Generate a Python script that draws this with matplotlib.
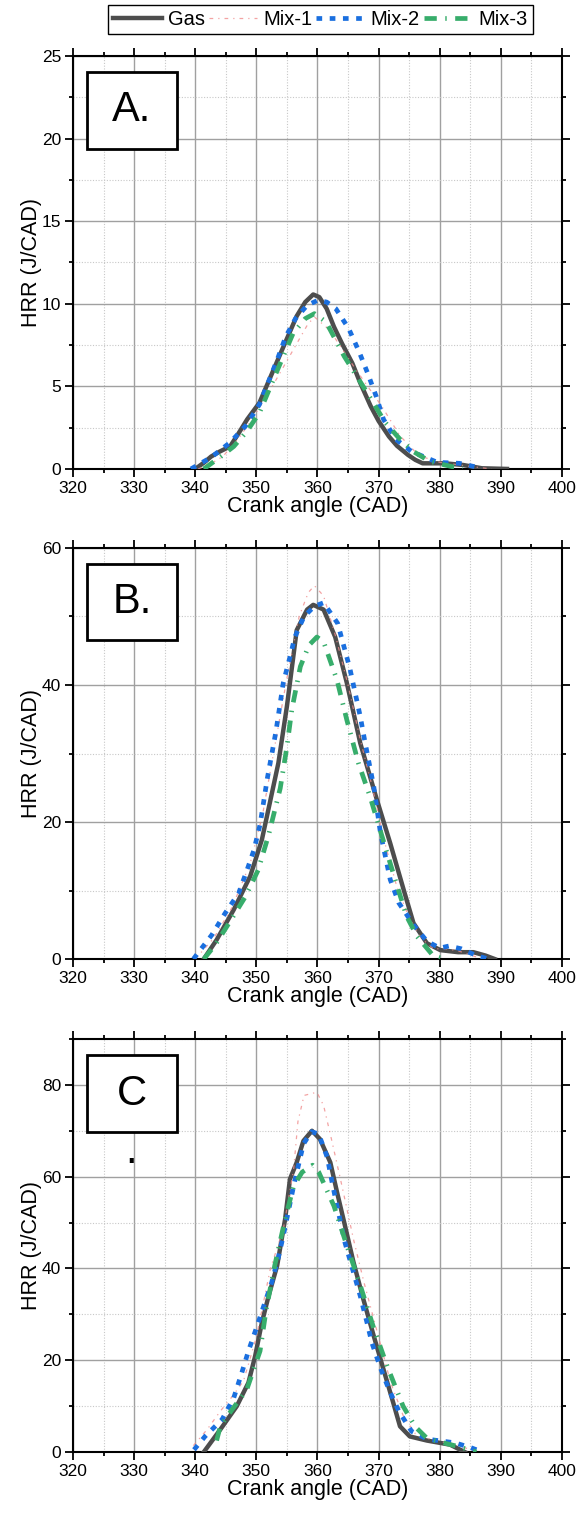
import matplotlib
matplotlib.use('Agg')
import matplotlib.pyplot as plt
from matplotlib.patches import Rectangle
from matplotlib.ticker import MultipleLocator

plt.rcParams['font.family'] = ['Liberation Sans', 'DejaVu Sans']

# ---- data (crank angle in CAD, HRR in J/CAD) ----
# panel A
gas_a_x = [340, 341.5, 342.6, 344, 345.7, 347, 348.5, 350.5, 352, 354.2, 356.6, 358, 359.3, 360.3, 361.5,
           362.7, 364, 365.7, 367, 368.7, 370, 371.7, 373, 374.8, 376, 377.2, 380.8, 383.8, 386.9, 391]
gas_a_y = [0, 0.4, 0.75, 1.05, 1.36, 2.1, 3.0, 4.0, 5.3, 7.2, 9.25, 10.1, 10.56, 10.4, 9.7,
           8.6, 7.6, 6.4, 5.2, 3.8, 2.9, 1.96, 1.4, 0.85, 0.55, 0.34, 0.34, 0.24, 0.04, 0]
mix1_a_x = [340.5, 342.5, 344.5, 347, 349.3, 352.3, 355.4, 358.4, 359.5, 362, 366.3, 370.5, 373.5, 376.6, 380, 385, 388.5]
mix1_a_y = [0, 0.3, 0.75, 1.8, 3.0, 4.8, 6.8, 8.75, 9.2, 8.4, 6.0, 3.8, 2.0, 0.8, 0.4, 0.15, 0]
mix2_a_x = [339.3, 342.6, 345.7, 348.4, 350.5, 351.9, 353.4, 354.8, 356.4, 358.3, 360, 361.5, 363, 365.1,
            366.8, 368.2, 369.6, 370.8, 372.8, 375.4, 379.6, 383.2, 386.9]
mix2_a_y = [0, 0.7, 1.6, 2.67, 3.9, 5.2, 6.6, 8.0, 9.1, 9.9, 10.2, 10.1, 9.7, 8.5,
            7.1, 5.8, 4.4, 3.0, 1.8, 1.05, 0.4, 0.34, 0.04]
mix3_a_x = [341.4, 344, 346.3, 348.5, 350.5, 353, 356, 358, 359.5, 361.4, 364.4, 367.8, 371.1, 373.5, 375.7, 378.4, 382, 383.8]
mix3_a_y = [0, 0.7, 1.36, 2.3, 3.4, 5.6, 8.2, 9.1, 9.4, 8.9, 6.8, 4.8, 2.8, 1.8, 1.05, 0.45, 0.14, 0.08]

# panel B
gas_b_x = [341.4, 343.5, 346.3, 349, 350.9, 352.3, 353.6, 355, 356.6, 358.3, 359.3, 361, 362.9, 364.8, 367,
           369.7, 371.9, 374.1, 375.7, 377.9, 380.1, 383, 385.5, 387.5, 389]
gas_b_y = [0, 2.8, 7.2, 12.1, 17.4, 23.2, 28.6, 36.9, 48, 51, 51.7, 51, 47, 40.3, 31.5,
           23.3, 16.9, 10.1, 5.25, 2.3, 1.3, 1.0, 1.0, 0.5, 0]
mix1_b_x = [340, 343, 346, 349, 351, 353, 355, 357, 358.5, 359.5, 361, 363, 365, 367, 369, 371, 373, 375,
            377, 379, 381, 383, 385, 387]
mix1_b_y = [0, 3, 7.5, 14, 21, 31, 41, 50, 53.5, 54.5, 53, 47, 40, 32, 25, 17, 10.5, 6,
            3, 1.5, 1.5, 1.2, 0.6, 0]
mix2_b_x = [339.7, 342.7, 344.9, 347.1, 348.4, 349.6, 350.6, 351.8, 353.2, 354.4, 355.5, 356.3, 357.8, 359.5,
            361, 363.3, 365.3, 367, 367.7, 369.2, 370.3, 371.9, 373.3, 375.7, 377.9, 380, 381.5, 383.5, 386, 388]
mix2_b_y = [0, 3.5, 6.7, 9.6, 12.8, 15.9, 19.6, 26.4, 33.2, 40.3, 44.1, 47, 50, 51.5,
            52, 49, 42.4, 35.4, 32, 25.2, 18.4, 11.6, 8.2, 5.0, 2.6, 1.6, 1.9, 1.5, 0.5, 0]
mix3_b_x = [341.4, 343.3, 345.7, 348.2, 350.3, 352, 353.9, 355, 355.8, 357.2, 358.6, 359.9, 361, 363.2,
            364.8, 366.7, 368.6, 370.8, 372.7, 374.6, 376.3, 379, 381]
mix3_b_y = [0, 2.1, 5.5, 9.1, 13, 18.1, 24.9, 31, 36.4, 42.7, 45.8, 47, 46.3, 40.7,
            34.9, 28.6, 23.7, 17.2, 11.6, 6.2, 3.3, 0.4, 0]

# panel C
gas_c_x = [341.4, 344.1, 346.8, 348.7, 349.8, 350.9, 352, 353.4, 354.7, 355.5, 356.6, 357.7, 359.1, 360.4,
           362.1, 363.2, 364.5, 365.9, 367.5, 369.2, 370.8, 372.4, 373.5, 375.1, 377.9, 381.7, 384.1]
gas_c_y = [0, 4.9, 10, 15.1, 20.9, 28.2, 34, 40.6, 50.7, 59.5, 63.1, 67.8, 70, 68.2,
           63.1, 56.6, 49.3, 41.3, 33.3, 25.3, 18, 10.7, 5.6, 3.4, 2.5, 1.6, 0]
mix1_c_x = [339.7, 342, 344.1, 346, 347.9, 350, 352.3, 354.4, 356.1, 356.8, 357.8, 359.9, 361, 362.4,
            364, 365.9, 367.6, 370, 372, 374, 376, 379, 383, 386]
mix1_c_y = [1.4, 5, 8.9, 12, 15.5, 25, 40, 48.5, 61.6, 72, 77.7, 78.4, 75.5, 67.5,
            58, 46.3, 37, 25, 15, 8, 4, 2.5, 1.5, 0]
mix2_c_x = [339.8, 341.6, 344.4, 346.3, 347.6, 348.7, 350.1, 351.2, 352.5, 353.6, 354.4, 355.2, 356.1, 357.7,
            359, 360.2, 361.6, 362.4, 363.2, 364.5, 367, 368.1, 368.9, 370.3, 371.7, 373.3, 375.4, 378,
            382.5, 385, 387]
mix2_c_y = [0.5, 3.4, 7.1, 11.8, 17.2, 22, 27.4, 31.8, 36.9, 42.4, 47.1, 52.2, 58, 67.1,
            69.8, 69.3, 64.2, 58.7, 53.6, 45.6, 34, 28.2, 23.8, 18.3, 13.6, 8.9, 4.5, 2.8,
            2.0, 1.0, 0]
mix3_c_x = [343.5, 344.1, 346, 348.4, 350.6, 351.6, 353, 354.7, 356.1, 357.5, 359.2, 360.2, 362.7, 364.8,
            367, 369.2, 371.4, 374, 376, 377.9, 380, 383, 386]
mix3_c_y = [2.5, 5.6, 9.2, 13.5, 22, 31, 40.6, 50.7, 58, 61, 62.5, 61, 53.6, 45,
            36.3, 27, 18.7, 10, 5.5, 3, 2.2, 1.2, 0]

series_names = ['Gas', 'Mix-1', 'Mix-2', 'Mix-3']
panel_labels = ['A.', 'B.', 'C']
y_limits = [25, 60, 90]
y_major = [5, 20, 20]

panels = [
    [(gas_a_x, gas_a_y), (mix1_a_x, mix1_a_y), (mix2_a_x, mix2_a_y), (mix3_a_x, mix3_a_y)],
    [(gas_b_x, gas_b_y), (mix1_b_x, mix1_b_y), (mix2_b_x, mix2_b_y), (mix3_b_x, mix3_b_y)],
    [(gas_c_x, gas_c_y), (mix1_c_x, mix1_c_y), (mix2_c_x, mix2_c_y), (mix3_c_x, mix3_c_y)],
]

# line styles for Gas, Mix-1, Mix-2, Mix-3
styles = [
    dict(color='#4d4d4d', lw=3.2, ls='-'),
    dict(color='#f08c8c', lw=0.9, ls=(0, (3, 4, 1, 4)), alpha=0.8),
    dict(color='#1a6fdf', lw=3.4, ls=(0, (1.2, 1.6))),
    dict(color='#37ad6b', lw=3.4, ls=(0, (2.6, 1.8, 0.3, 1.8))),
]

fig = plt.figure(figsize=(5.81, 15.23), dpi=100)
ax_rects = [
    [0.1256, 0.6921, 0.8417, 0.2712],
    [0.1256, 0.3703, 0.8417, 0.2699],
    [0.1256, 0.0466, 0.8417, 0.2712],
]

handles = []
for i, rect in enumerate(ax_rects):
    ax = fig.add_axes(rect)
    for j, (xs, ys) in enumerate(panels[i]):
        ln, = ax.plot(xs, ys, label=series_names[j], zorder=3 + j, **styles[j])
        if i == 0:
            handles.append(ln)

    ax.set_xlim(320, 400)
    ax.set_ylim(0, y_limits[i])
    ax.xaxis.set_major_locator(MultipleLocator(10))
    ax.xaxis.set_minor_locator(MultipleLocator(5))
    ax.yaxis.set_major_locator(MultipleLocator(y_major[i]))
    ax.yaxis.set_minor_locator(MultipleLocator(y_major[i] / 2))

    ax.grid(which='major', color='#a0a0a0', lw=1.0, ls='-', zorder=0)
    ax.grid(which='minor', color='#c8c8c8', lw=0.8, ls=(0, (1, 1.5)), zorder=0)
    ax.set_axisbelow(True)

    for sp in ax.spines.values():
        sp.set_linewidth(1.5)
    ax.tick_params(which='both', direction='out', top=True, right=True, width=1.3, labelsize=12.5)
    ax.tick_params(which='major', length=6, pad=2.5)
    ax.tick_params(which='minor', length=3)

    ax.set_xlabel('Crank angle (CAD)', fontsize=15.5, labelpad=0)
    ax.set_ylabel('HRR (J/CAD)', fontsize=15.5, labelpad=0)

    # panel tag box
    ax.add_patch(Rectangle((0.0286, 0.775), 0.1841, 0.186, transform=ax.transAxes,
                           facecolor='white', edgecolor='black', lw=2, zorder=10))
    ax.text(0.1207, 0.868, panel_labels[i], transform=ax.transAxes, fontsize=30,
            ha='center', va='center', zorder=11)
    if i == 2:
        ax.text(329.5, 63, '.', fontsize=30, ha='center', va='baseline', zorder=11)

fig.legend(handles=handles, loc='center', bbox_to_anchor=(0.5517, 0.9869), ncol=4,
           fontsize=14.5, frameon=True, fancybox=False, edgecolor='black', framealpha=1,
           handlelength=2.4, handletextpad=0.3, columnspacing=0.2, borderpad=0.25,
           borderaxespad=0)

fig.savefig('out.png', dpi=100)
